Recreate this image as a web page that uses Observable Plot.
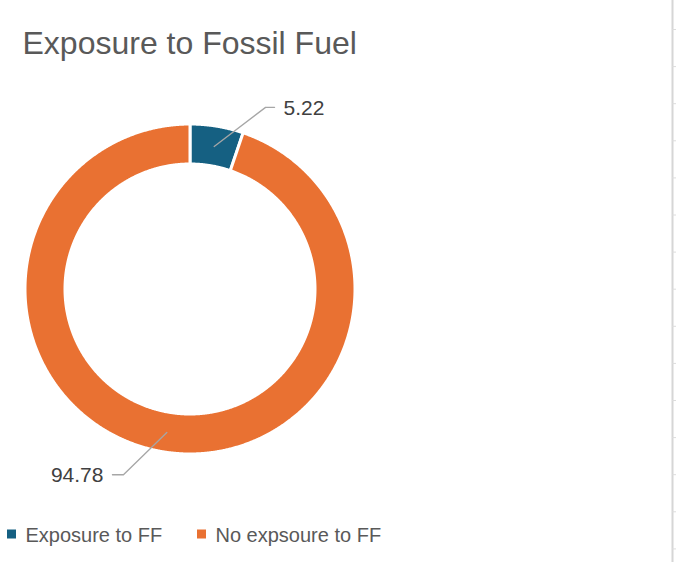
<!DOCTYPE html>
<html>
<head>
<meta charset="utf-8">
<script src="https://cdn.jsdelivr.net/npm/d3@7"></script>
<script src="https://cdn.jsdelivr.net/npm/@observablehq/plot@0.6"></script>
<style>
  html, body { margin: 0; padding: 0; background: #ffffff; }
  #chart svg { display: block; }
</style>
</head>
<body>
<div id="chart"></div>
<script>
// ---- data ----
const chartTitle = "Exposure to Fossil Fuel";
const categories = ["Exposure to FF", "No expsoure to FF"];
const values = [5.22, 94.78];
const valueLabels = ["5.22", "94.78"];
const colors = ["#156082", "#E97132"];

// ---- layout ----
const W = 676, H = 562;
const cx = 190, cy = 289, rOuter = 165, rInner = 125;
const leaderR = 197;                       // radius of the leader-line elbow
const leaderTurn = [13, 10.5];             // degrees the elbow is rotated from slice middle
const leaderDir = [1, -1];                 // direction of horizontal leader segment
const leaderHoriz = [9, 11];               // length of horizontal leader segment
const legendX = [7, 197];
const legendY = 534;
const sheetRows = d3.range(29, H, 37.1);  // spreadsheet row lines on right edge

const deg = Math.PI / 180;
const pie = d3.pie().sort(null).value(d => d)(values);

// ring sector outlines sampled along the arcs
const ring = [];
pie.forEach((p, i) => {
  const n = Math.max(4, Math.ceil((p.endAngle - p.startAngle) / 0.005));
  for (let k = 0; k <= n; k++) {
    const a = p.startAngle + (p.endAngle - p.startAngle) * k / n;
    ring.push({
      cat: categories[i],
      x1: cx + rOuter * Math.sin(a), y1: cy - rOuter * Math.cos(a),
      x2: cx + rInner * Math.sin(a), y2: cy - rInner * Math.cos(a)
    });
  }
});

// leader lines and labels
const leaders = [];
const labels = [];
pie.forEach((p, i) => {
  const mid = (p.startAngle + p.endAngle) / 2;
  const rm = (rOuter + rInner) / 2;
  const sx = cx + rm * Math.sin(mid), sy = cy - rm * Math.cos(mid);
  const ea = mid + leaderTurn[i] * deg;
  const ex = cx + leaderR * Math.sin(ea), ey = cy - leaderR * Math.cos(ea);
  const hx = ex + leaderDir[i] * leaderHoriz[i];
  leaders.push({cat: categories[i], x: sx, y: sy});
  leaders.push({cat: categories[i], x: ex, y: ey});
  leaders.push({cat: categories[i], x: hx, y: ey});
  labels.push({text: valueLabels[i], x: hx + leaderDir[i] * 9, y: ey + 1, dir: leaderDir[i]});
});

const legend = categories.map((c, i) => ({cat: c, x: legendX[i]}));
const labelFont = {fontFamily: "Liberation Sans, Arial, sans-serif", fontSize: 21, fill: "#404040", lineAnchor: "middle"};

const chart = Plot.plot({
  width: W,
  height: H,
  margin: 0,
  x: {domain: [0, W], range: [0, W], axis: null},
  y: {domain: [0, H], range: [0, H], axis: null},
  color: {domain: categories, range: colors},
  style: {background: "#ffffff"},
  marks: [
    // spreadsheet edge
    Plot.ruleX([672], {y1: 0, y2: H, stroke: "#d6d6d6", strokeWidth: 2}),
    Plot.ruleY(sheetRows, {x1: 672, x2: W, stroke: "#dcdcdc", strokeWidth: 1}),
    // title
    Plot.text([chartTitle], {x: 22, y: 43.5, text: d => d, textAnchor: "start", lineAnchor: "middle",
      fontFamily: "Liberation Sans, Arial, sans-serif", fontSize: 32, fill: "#595959"}),
    // donut
    Plot.area(ring, {x1: "x1", y1: "y1", x2: "x2", y2: "y2", z: "cat", fill: "cat",
      stroke: "#ffffff", strokeWidth: 3}),
    // leader lines
    Plot.line(leaders, {x: "x", y: "y", z: "cat", stroke: "#a6a6a6", strokeWidth: 1.3}),
    // labels
    Plot.text(labels.filter(d => d.dir > 0), {x: "x", y: "y", text: "text", textAnchor: "start", ...labelFont}),
    Plot.text(labels.filter(d => d.dir < 0), {x: "x", y: "y", text: "text", textAnchor: "end", ...labelFont}),
    // legend
    Plot.rect(legend, {x1: d => d.x, x2: d => d.x + 9, y1: legendY - 4.5, y2: legendY + 4.5, fill: "cat"}),
    Plot.text(legend, {x: d => d.x + 18, y: legendY + 1, text: "cat", textAnchor: "start", lineAnchor: "middle",
      fontFamily: "Liberation Sans, Arial, sans-serif", fontSize: 20, fill: "#595959"})
  ]
});

document.getElementById("chart").appendChild(chart);
</script>
</body>
</html>
